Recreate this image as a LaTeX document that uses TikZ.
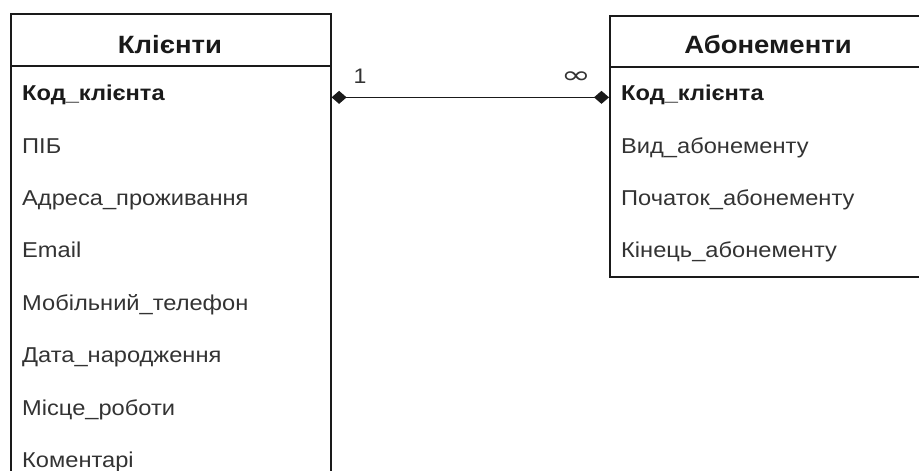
\documentclass[tikz,border=0pt]{standalone}
\usepackage{fontspec}
\setmainfont{Liberation Sans}[FakeStretch=1.1]
\newfontfamily\symfont{DejaVu Sans}
\usetikzlibrary{arrows.meta}
\definecolor{txt}{HTML}{333333}
\definecolor{ln}{HTML}{1A1A1A}
\begin{document}
\begin{tikzpicture}[x=1pt,y=-1pt,
  tbox/.style={draw=ln, line width=1.6pt, inner sep=0pt, anchor=north west, fill=white},
  sep/.style={draw=ln, line width=1.6pt},
  hdr/.style={font=\fontsize{25}{30}\selectfont\bfseries, text=ln, anchor=base, inner sep=0pt},
  keyf/.style={font=\fontsize{21.5}{26}\selectfont\bfseries, text=ln, anchor=base west, inner sep=0pt},
  fld/.style={font=\fontsize{21.5}{26}\selectfont, text=txt, anchor=base west, inner sep=0pt},
  card/.style={font=\fontsize{21}{25}\selectfont, text=txt, anchor=base, inner sep=0pt},
  rel/.style={draw=ln, line width=1.6pt, {Diamond[length=15pt,width=13pt]}-{Diamond[length=15pt,width=13pt]}}
]
\useasboundingbox (0,0) rectangle (919,471);
\clip (0,0) rectangle (919,471);
\fill[white] (0,0) rectangle (919,471);

% Left table
\node[tbox, minimum width=320pt, minimum height=470pt] (kbox) at (10,13) {};
\draw[sep] ([yshift=-53pt]kbox.north west) -- ([yshift=-53pt]kbox.north east);
\node[hdr] (kh) at (170,53) {Клієнти};
\node[keyf] (k1) at (22,100) {Код\_клієнта};
\node[fld] (k2) at (22,153) {ПІБ};
\node[fld] (k3) at (22,205) {Адреса\_проживання};
\node[fld] (k4) at (22,257) {Email};
\node[fld] (k5) at (22,310) {Мобільний\_телефон};
\node[fld] (k6) at (22,362) {Дата\_народження};
\node[fld] (k7) at (22,415) {Місце\_роботи};
\node[fld] (k8) at (22,467) {Коментарі};

% Right table
\node[tbox, minimum width=318pt, minimum height=261pt] (abox) at (609,15) {};
\draw[sep] ([yshift=-52pt]abox.north west) -- ([yshift=-52pt]abox.north east);
\node[hdr] (ah) at (768,53) {Абонементи};
\node[keyf] (a1) at (621,100) {Код\_клієнта};
\node[fld] (a2) at (621,153) {Вид\_абонементу};
\node[fld] (a3) at (621,205) {Початок\_абонементу};
\node[fld] (a4) at (621,257) {Кінець\_абонементу};

% Relation
\draw[rel] (kbox.east |- k1.mid) -- (abox.west |- a1.mid);
\node[card] (c1) at (360,83) {1};
\node[card] (c2) at (576,83) {\symfont\scalebox{1.7}[1.15]{∞}};
\end{tikzpicture}
\end{document}
